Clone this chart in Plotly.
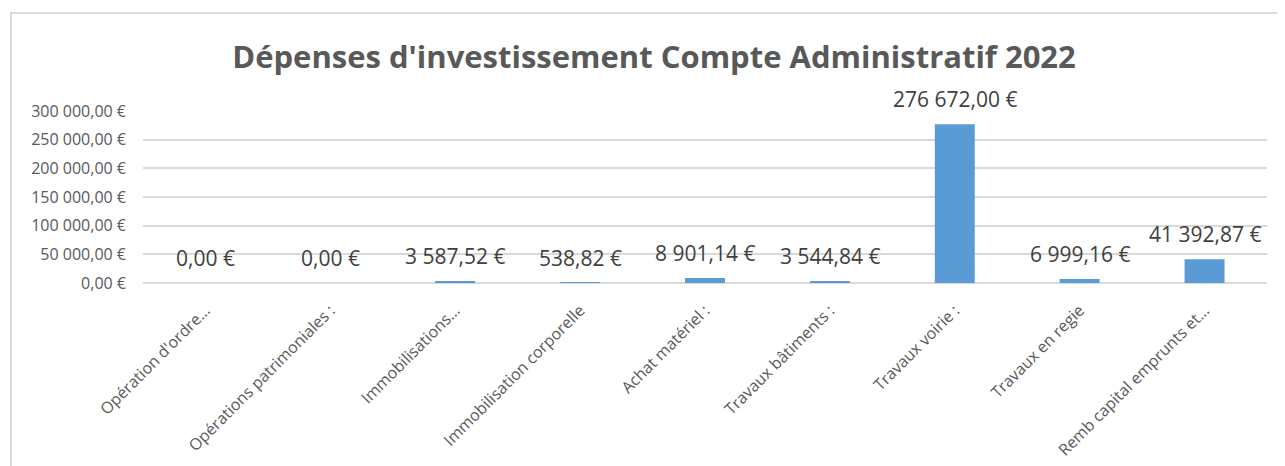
import plotly.graph_objects as go

categories = ["Opération d'ordre…", "Opérations patrimoniales :", "Immobilisations…",
              "Immobilisation corporelle", "Achat matériel :", "Travaux bâtiments :",
              "Travaux voirie :", "Travaux en regie", "Remb capital emprunts et…"]
values = [0.00, 0.00, 3587.52, 538.82, 8901.14, 3544.84, 276672.00, 6999.16, 41392.87]
tick_vals = [0, 50000, 100000, 150000, 200000, 250000, 300000]
tick_text = ["0,00 €", "50 000,00 €", "100 000,00 €", "150 000,00 €",
             "200 000,00 €", "250 000,00 €", "300 000,00 €"]
title_text = "Dépenses d'investissement Compte Administratif 2022"


def fmt_eur(v):
    s = f"{v:,.2f}".replace(",", " ").replace(".", ",")
    return s + " €"


OFF = 8  # default page body margin
W, H = 1285 - OFF, 466 - OFF
L, R, T, B = 143 - OFF, 18, 111 - OFF, 183
pw, ph = W - L - R, H - T - B

fig = go.Figure()
fig.add_trace(go.Bar(x=categories, y=values, marker=dict(color="#5B9BD5", line=dict(width=0)),
                     width=0.32, hoverinfo="skip"))

for c, v in zip(categories, values):
    fig.add_annotation(x=c, y=v, text=fmt_eur(v), showarrow=False, yanchor="bottom",
                       yshift=9, font=dict(family="Open Sans", size=21, color="#404040"))

# outer chart frame
fig.add_shape(type="rect", xref="paper", yref="paper",
              x0=(11 - OFF - L) / pw, x1=(W + 20 - L) / pw,
              y0=-(H + 20 - T - ph) / ph, y1=(H - B - (13 - OFF)) / ph,
              line=dict(color="#d9d9d9", width=2), fillcolor="rgba(0,0,0,0)", layer="below")

fig.update_layout(
    width=W, height=H,
    margin=dict(l=L, r=R, t=T, b=B, autoexpand=False),
    paper_bgcolor="white", plot_bgcolor="white",
    showlegend=False,
    title=dict(text=title_text, x=(654 - OFF) / W, xanchor="center", y=1 - (57 - OFF) / H,
               yanchor="middle",
               font=dict(family="Open Sans", size=31, color="#595959", weight="bold")),
    xaxis=dict(type="category", tickangle=-45, showgrid=False, showline=False, ticks="",
               ticklabelstandoff=14,
               tickfont=dict(family="Open Sans", size=16, color="#595959")),
    yaxis=dict(range=[0, 300000], tickvals=tick_vals, ticktext=tick_text,
               showgrid=True, gridcolor="#d9d9d9", gridwidth=1.5, zeroline=True,
               zerolinecolor="#d9d9d9", zerolinewidth=1.5, showline=False, ticks="",
               ticklabelstandoff=16,
               tickfont=dict(family="Open Sans", size=16, color="#595959")),
)

fig.write_html("out.html")
